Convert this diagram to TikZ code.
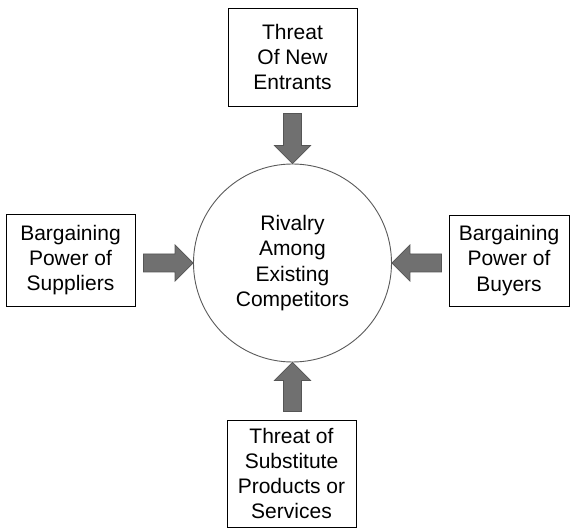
\documentclass[tikz,border=0pt]{standalone}
\usepackage{fontspec}
\setmainfont{Liberation Sans}
\usetikzlibrary{calc}

\definecolor{arrowfill}{HTML}{707070}
\definecolor{arrowline}{HTML}{555555}
\definecolor{ringline}{HTML}{5A5A5A}

% block arrow from tail #1 to tip #2: shaft 18pt wide, head 36pt wide, 18pt long
\newcommand\blockarrow[2]{%
  \path (#1) coordinate (ba-s) ($(#2)!18pt!(#1)$) coordinate (ba-h);
  \draw[forcearrow]
    ($(ba-s)!9pt!90:(#2)$) -- ($(ba-h)!9pt!90:(#2)$) -- ($(ba-h)!18pt!90:(#2)$)
    -- (#2)
    -- ($(ba-h)!18pt!-90:(#2)$) -- ($(ba-h)!9pt!-90:(#2)$) -- ($(ba-s)!9pt!-90:(#2)$)
    -- cycle;}

\begin{document}
\begin{tikzpicture}[x=1pt,y=-1pt,
  every node/.style={font=\fontsize{21}{25.3}\selectfont, align=center, inner sep=0pt},
  forcebox/.style={draw=black, line width=0.9pt, fill=white},
  forcering/.style={circle, draw=ringline, line width=0.9pt, minimum size=198pt},
  forcearrow/.style={fill=arrowfill, draw=arrowline, line width=0.7pt, line join=miter}]

\useasboundingbox (0,0) rectangle (571,529);

% central force and the four outer forces
\node[forcering] (rival) at (292.5,263) {Rivalry\\Among\\Existing\\Competitors};
\node[forcebox, minimum width=129pt, minimum height=98pt] (entr) at (292.5,57)
  {Threat\\Of New\\Entrants};
\node[forcebox, minimum width=129pt, minimum height=92pt] (supp) at (70.5,260)
  {Bargaining\\Power of\\Suppliers};
\node[forcebox, minimum width=120pt, minimum height=91pt] (buy) at (509,260.5)
  {Bargaining\\Power of\\Buyers};
\node[forcebox, minimum width=129pt, minimum height=107pt] (subs) at (291.5,473.5)
  {Threat of\\Substitute\\Products or\\Services};

% tails of the arrows, just off each box
\coordinate (t-entr) at ($(rival.north |- entr.south)+(0,7)$);
\coordinate (t-supp) at ($(rival.west -| supp.east)+(8,0)$);
\coordinate (t-buy)  at ($(rival.east -| buy.west)+(-7,0)$);
\coordinate (t-subs) at ($(rival.south |- subs.north)+(0,-8)$);

\blockarrow{t-entr}{rival.north}
\blockarrow{t-supp}{rival.west}
\blockarrow{t-buy}{rival.east}
\blockarrow{t-subs}{rival.south}

\end{tikzpicture}
\end{document}
